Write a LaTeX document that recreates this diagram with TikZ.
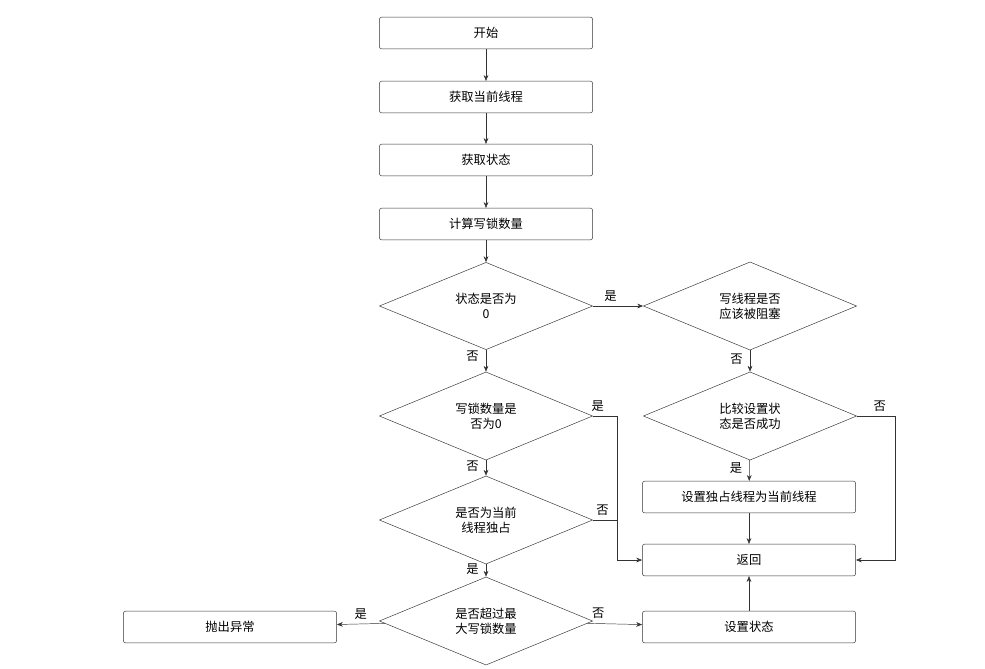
\documentclass[tikz,border=0pt]{standalone}
\usepackage{fontspec}
\setmainfont{Noto Sans CJK SC}
\usetikzlibrary{shapes.geometric,arrows.meta}
\begin{document}
\begin{tikzpicture}[x=0.03cm,y=-0.03cm,
  every node/.style={font=\fontsize{10.5}{13}\selectfont, inner sep=0pt, align=center},
  box/.style={draw=black!80, rounded corners=2pt, minimum width=6.4cm, minimum height=0.95cm},
  cond/.style={draw=black!80, diamond, minimum width=6.4cm, minimum height=2.31cm},
  line/.style={draw=black!80, -{Stealth[length=5pt,width=4pt]}},
  lbl/.style={font=\fontsize{10.5}{13}\selectfont}]
\useasboundingbox (0,0) rectangle (985,668);
\node[box] (start) at (486,33) {开始};
\node[box] (thread) at (486,97) {获取当前线程};
\node[box] (state) at (486,160) {获取状态};
\node[box] (count) at (486,224) {计算写锁数量};
\node[cond] (iszero) at (486,306) {状态是否为\\0};
\node[cond] (block) at (750,306) {写线程是否\\应该被阻塞};
\node[cond] (wzero) at (486,416) {写锁数量是\\否为0};
\node[cond] (cas) at (750,416) {比较设置状\\态是否成功};
\node[cond] (owner) at (486,520) {是否为当前\\线程独占};
\node[box] (setown) at (749,497) {设置独占线程为当前线程};
\node[box] (ret) at (749,560) {返回};
\node[cond] (max) at (486,621) {是否超过最\\大写锁数量};
\node[box] (setstate) at (749,627) {设置状态};
\node[box] (throw) at (230,627) {抛出异常};
\coordinate (rj) at (617,0);
\coordinate (rr) at (895,0);
% main column
\draw[line] (start) -- (thread);
\draw[line] (thread) -- (state);
\draw[line] (state) -- (count);
\draw[line] (count) -- (iszero);
\draw[line] (iszero) -- node[pos=0.3,left=6pt] {否} (wzero);
\draw[line] (wzero) -- node[pos=0.4,left=6pt] {否} (owner);
\draw[line] (owner) -- node[pos=0.4,left=6pt] {是} (max);
% right side
\draw[line] (iszero) -- node[pos=0.35,above=4pt] {是} (block);
\draw[line] (block) -- node[pos=0.4,left=6pt] {否} (cas);
\draw[line] (cas) -- node[pos=0.4,left=6pt] {是} (setown);
\draw[line] (setown) -- (ret);
\draw[line] (setstate) -- (ret);
\draw[line] (cas.east) -| node[pos=0.3,above=4pt] {否} (rr |- ret.east) -- (ret.east);
\draw[line] (wzero.east) -| node[pos=0.1,above=4pt] {是} (rj |- ret.west) -- (ret.west);
\draw[draw=black!80] (owner.east) -| node[pos=0.2,above=4pt] {否} (rj |- owner.east);
\draw[line] (max) -- node[pos=0.5,above=4pt] {是} (throw);
\draw[line] (max) -- node[pos=0.2,above=4pt] {否} (setstate);
\end{tikzpicture}
\end{document}
